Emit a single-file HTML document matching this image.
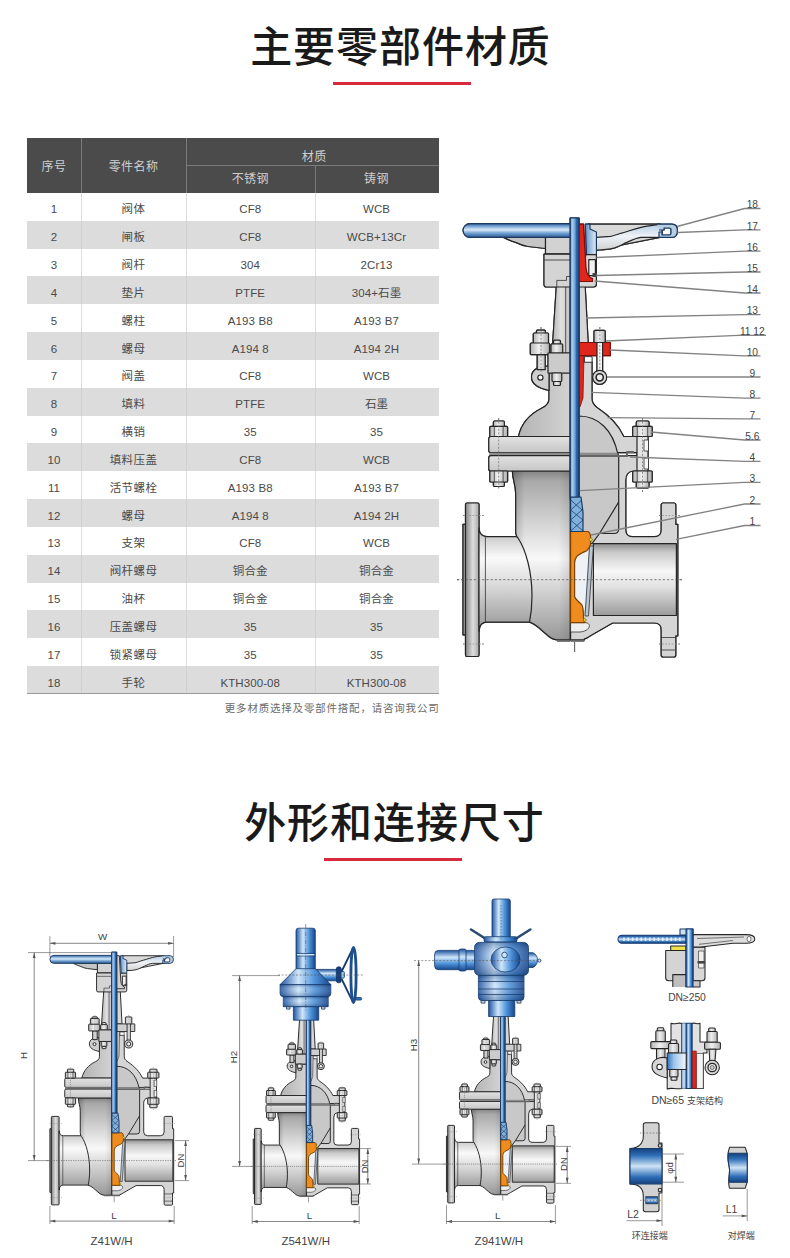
<!DOCTYPE html>
<html lang="zh-CN">
<head>
<meta charset="utf-8">
<title>主要零部件材质</title>
<style>
*{margin:0;padding:0;box-sizing:border-box}
html,body{width:790px;height:1258px;background:#fff;overflow:hidden}
body{position:relative;font-family:"Liberation Sans","Noto Sans CJK SC",sans-serif;color:#555}
.ttl{position:absolute;left:0;width:790px;text-align:center;font-family:"Liberation Sans","Noto Sans CJK SC",sans-serif;font-weight:500;color:#1a1a1a;font-size:42px;line-height:50px;letter-spacing:.95px;white-space:nowrap}
.red{position:absolute;height:3px;width:138px;background:#d8293f}
.tb{position:absolute;left:27px;top:137.5px;width:411.5px;height:556.5px;font-size:11px}
.hd{position:absolute;left:0;top:0;width:100%;height:55.5px;background:#4b4b4b;color:#cfcfcf}
.hd span{position:absolute;text-align:center;line-height:14px;font-size:12px;letter-spacing:.4px;margin-top:1.3px}
.vl{position:absolute;top:0;width:1px;height:100%;background:rgba(255,255,255,.55)}
.vl2{position:absolute;width:1px;background:#7a7a7a}
.r{position:absolute;left:27px;width:411.5px;height:27.83px;line-height:27.83px;font-size:11.5px;color:#4a4a4a;white-space:nowrap}
.r.e{background:#dcdcdc}
.r span{position:absolute;top:3.4px;text-align:center;letter-spacing:.1px}
.r .c2{letter-spacing:.4px}
.c1{left:0;width:54px}.c2{left:54px;width:105px}.c3{left:159px;width:128.5px}.c4{left:287.5px;width:124px}
.note{position:absolute;right:350.5px;top:700.8px;font-size:10.5px;line-height:14px;color:#6a6a6a;letter-spacing:.8px;white-space:nowrap}
svg{position:absolute;left:0;top:0;overflow:visible}
.ln,.ln *{stroke-width:var(--sw,1.2);stroke-linejoin:round}
.ln .thin{stroke-width:var(--swt,.75)}
svg text{font-family:"Liberation Sans","Noto Sans CJK SC",sans-serif}
</style>
</head>
<body>
<div class="ttl" style="top:23px;left:5.5px">主要零部件材质</div>
<div class="red" style="left:333px;top:82px"></div>
<div class="tb">
 <div class="hd">
  <span style="left:0;width:54px;top:21px">序号</span>
  <span style="left:54px;width:105px;top:21px">零件名称</span>
  <span style="left:161px;width:252.5px;top:11px">材质</span>
  <span style="left:159px;width:128.5px;top:33px">不锈钢</span>
  <span style="left:287.5px;width:124px;top:33px">铸钢</span>
  <i class="vl2" style="left:54px;top:0;height:55.5px"></i>
  <i class="vl2" style="left:159px;top:0;height:55.5px"></i>
  <i class="vl2" style="left:287.5px;top:27.5px;height:28px"></i>
  <i class="vl2" style="left:159px;top:27.5px;width:252.5px;height:1px"></i>
 </div>
</div>
<div class="r" style="top:193.00px"><span class="c1">1</span><span class="c2">阀体</span><span class="c3">CF8</span><span class="c4">WCB</span></div>
<div class="r e" style="top:220.83px"><span class="c1">2</span><span class="c2">闸板</span><span class="c3">CF8</span><span class="c4">WCB+13Cr</span></div>
<div class="r" style="top:248.66px"><span class="c1">3</span><span class="c2">阀杆</span><span class="c3">304</span><span class="c4">2Cr13</span></div>
<div class="r e" style="top:276.49px"><span class="c1">4</span><span class="c2">垫片</span><span class="c3">PTFE</span><span class="c4">304+石墨</span></div>
<div class="r" style="top:304.32px"><span class="c1">5</span><span class="c2">螺柱</span><span class="c3">A193 B8</span><span class="c4">A193 B7</span></div>
<div class="r e" style="top:332.15px"><span class="c1">6</span><span class="c2">螺母</span><span class="c3">A194 8</span><span class="c4">A194 2H</span></div>
<div class="r" style="top:359.98px"><span class="c1">7</span><span class="c2">阀盖</span><span class="c3">CF8</span><span class="c4">WCB</span></div>
<div class="r e" style="top:387.81px"><span class="c1">8</span><span class="c2">填料</span><span class="c3">PTFE</span><span class="c4">石墨</span></div>
<div class="r" style="top:415.64px"><span class="c1">9</span><span class="c2">横销</span><span class="c3">35</span><span class="c4">35</span></div>
<div class="r e" style="top:443.47px"><span class="c1">10</span><span class="c2">填料压盖</span><span class="c3">CF8</span><span class="c4">WCB</span></div>
<div class="r" style="top:471.30px"><span class="c1">11</span><span class="c2">活节螺栓</span><span class="c3">A193 B8</span><span class="c4">A193 B7</span></div>
<div class="r e" style="top:499.13px"><span class="c1">12</span><span class="c2">螺母</span><span class="c3">A194 8</span><span class="c4">A194 2H</span></div>
<div class="r" style="top:526.96px"><span class="c1">13</span><span class="c2">支架</span><span class="c3">CF8</span><span class="c4">WCB</span></div>
<div class="r e" style="top:554.79px"><span class="c1">14</span><span class="c2">阀杆螺母</span><span class="c3">铜合金</span><span class="c4">铜合金</span></div>
<div class="r" style="top:582.62px"><span class="c1">15</span><span class="c2">油杯</span><span class="c3">铜合金</span><span class="c4">铜合金</span></div>
<div class="r e" style="top:610.45px"><span class="c1">16</span><span class="c2">压盖螺母</span><span class="c3">35</span><span class="c4">35</span></div>
<div class="r" style="top:638.28px"><span class="c1">17</span><span class="c2">锁紧螺母</span><span class="c3">35</span><span class="c4">35</span></div>
<div class="r e" style="top:666.11px"><span class="c1">18</span><span class="c2">手轮</span><span class="c3">KTH300-08</span><span class="c4">KTH300-08</span></div>
<i class="vl" style="left:81px;top:193px;height:501px;background:rgba(200,200,200,.6)"></i>
<i class="vl" style="left:186px;top:193px;height:501px;background:rgba(200,200,200,.6)"></i>
<i class="vl" style="left:314.5px;top:193px;height:501px;background:rgba(200,200,200,.6)"></i>
<div style="position:absolute;left:27px;top:692.8px;width:411.5px;height:1.6px;background:#9a9a9a"></div>
<div class="note">更多材质选择及零部件搭配，请咨询我公司</div>
<div class="ttl" style="top:799px;left:-0.5px">外形和连接尺寸</div>
<div class="red" style="left:324px;top:858px"></div>
<svg width="790" height="1258" viewBox="0 0 790 1258">
<defs>
<linearGradient id="gBodyH" x1="0" x2="0" y1="471" y2="640" gradientUnits="userSpaceOnUse">
 <stop offset="0" stop-color="#858585"/><stop offset=".06" stop-color="#a9a9a9"/><stop offset=".28" stop-color="#cfcfcf"/><stop offset=".52" stop-color="#f8f8f8"/><stop offset=".72" stop-color="#cfcfcf"/><stop offset="1" stop-color="#989898"/></linearGradient>
<linearGradient id="gBodyX" x1="512" x2="570.2" y1="0" y2="0" gradientUnits="userSpaceOnUse">
 <stop offset="0" stop-color="#000" stop-opacity=".22"/><stop offset=".22" stop-color="#000" stop-opacity="0"/><stop offset=".8" stop-color="#000" stop-opacity="0"/><stop offset="1" stop-color="#000" stop-opacity=".1"/></linearGradient>
<linearGradient id="gDark" x1="0" x2="0" y1="471" y2="486" gradientUnits="userSpaceOnUse">
 <stop offset="0" stop-color="#000" stop-opacity=".38"/><stop offset="1" stop-color="#000" stop-opacity="0"/></linearGradient>
<linearGradient id="gBelly" x1="0" x2="0" y1="560" y2="640" gradientUnits="userSpaceOnUse">
 <stop offset="0" stop-color="#000" stop-opacity="0"/><stop offset="1" stop-color="#000" stop-opacity=".3"/></linearGradient>
<linearGradient id="gPipeV" x1="0" x2="0" y1="536.6" y2="622.2" gradientUnits="userSpaceOnUse">
 <stop offset="0" stop-color="#cdcdcd"/><stop offset=".25" stop-color="#fafafa"/><stop offset=".6" stop-color="#d6d6d6"/><stop offset="1" stop-color="#a2a2a2"/></linearGradient>
<linearGradient id="gBore" x1="0" x2="0" y1="543.6" y2="615.5" gradientUnits="userSpaceOnUse">
 <stop offset="0" stop-color="#8d8d8d"/><stop offset=".12" stop-color="#c9c9c9"/><stop offset=".38" stop-color="#f7f7f7"/><stop offset=".6" stop-color="#e2e2e2"/><stop offset="1" stop-color="#9b9b9b"/></linearGradient>
<linearGradient id="gFlL" x1="465.5" x2="479" y1="0" y2="0" gradientUnits="userSpaceOnUse">
 <stop offset="0" stop-color="#858585"/><stop offset=".55" stop-color="#dedede"/><stop offset="1" stop-color="#a8a8a8"/></linearGradient>
<linearGradient id="gFlg" x1="0" x2="0" y1="0" y2="1">
 <stop offset="0" stop-color="#e2e2e2"/><stop offset="1" stop-color="#c6c6c6"/></linearGradient>
<linearGradient id="gNut" x1="0" x2="1" y1="0" y2="0">
 <stop offset="0" stop-color="#b5b5b5"/><stop offset=".45" stop-color="#f0f0f0"/><stop offset="1" stop-color="#b0b0b0"/></linearGradient>
<linearGradient id="gDome" x1="518" x2="570" y1="0" y2="0" gradientUnits="userSpaceOnUse">
 <stop offset="0" stop-color="#b4b4b4"/><stop offset="1" stop-color="#d2d2d2"/></linearGradient>
<linearGradient id="gYoke" x1="552" x2="570" y1="0" y2="0" gradientUnits="userSpaceOnUse">
 <stop offset="0" stop-color="#b2b2b2"/><stop offset=".5" stop-color="#e0e0e0"/><stop offset="1" stop-color="#c2c2c2"/></linearGradient>
<linearGradient id="gTube" x1="0" x2="0" y1="223.6" y2="237.4" gradientUnits="userSpaceOnUse">
 <stop offset="0" stop-color="#2e5f9a"/><stop offset=".25" stop-color="#8db6e0"/><stop offset=".45" stop-color="#dbe9f6"/><stop offset=".7" stop-color="#6e9fd2"/><stop offset="1" stop-color="#2c5a92"/></linearGradient>
<linearGradient id="gStem" x1="570.2" x2="579" y1="0" y2="0" gradientUnits="userSpaceOnUse">
 <stop offset="0" stop-color="#5e93cc"/><stop offset=".25" stop-color="#a9cdef"/><stop offset=".55" stop-color="#6a9fd8"/><stop offset=".7" stop-color="#2d68ae"/><stop offset="1" stop-color="#1d4c8a"/></linearGradient>
<linearGradient id="gSpoke" x1="0" x2="0" y1="225" y2="250" gradientUnits="userSpaceOnUse"><stop offset="0" stop-color="#b9cfe6"/><stop offset=".45" stop-color="#eef3f8"/><stop offset="1" stop-color="#d0d0d0"/></linearGradient>
<linearGradient id="gHubB" x1="585" x2="597" y1="0" y2="0" gradientUnits="userSpaceOnUse">
 <stop offset="0" stop-color="#5f92c8"/><stop offset="1" stop-color="#eef4fa"/></linearGradient>
</defs>
<g id="vbody" class="ln" stroke="#262626">
<rect x="463" y="524.4" width="3" height="110.4" fill="#9a9a9a"/>
<rect x="465.5" y="503" width="13.5" height="153.5" rx="1.5" fill="url(#gFlL)"/>
<path d="M479,528 Q479.5,536.6 487,536.6 L533,536.6 L533,622.2 L487,622.2 Q479.5,622.2 479,631 Z" fill="url(#gPipeV)"/>
<path d="M485.4,536.6 V622.2" fill="none" class="thin"/>
<path d="M570.2,471 L512.4,471 C512.4,480 515.7,484 515.7,494 L515.7,531 Q515.7,536 518,538 C526,550 532,572 532,596 C532,606 531,615 529.5,622.2 C536,624 541,630 546,634 Q552,639.8 557,639.8 L570.2,639.8 Z" fill="url(#gBodyH)"/>
<path d="M570.2,471 L512.4,471 C512.4,480 515.7,484 515.7,494 L515.7,531 Q515.7,536 518,538 C526,550 532,572 532,596 C532,606 531,615 529.5,622.2 C536,624 541,630 546,634 Q552,639.8 557,639.8 L570.2,639.8 Z" fill="url(#gBodyX)" stroke="none"/>
<rect x="557" y="639.8" width="13.2" height="1.8" fill="#666" stroke="none"/>
<path d="M579,455.7 L640,455.7 L640,471 L633,471 Q625.8,472 625.8,480 L625.8,530 Q625.8,536.6 632.4,536.6 L654.5,536.6 Q661.2,536.6 661.2,530 L661.2,505 Q661.2,503 663.2,503 L673.8,503 Q675.8,503 675.8,505 L675.8,524.4 L677.8,524.4 L677.8,635.8 L675.8,635.8 L675.8,655 Q675.8,657 673.8,657 L663.2,657 Q661.2,657 661.2,655 L661.2,630 Q661.2,623 654.5,623 L612.6,623 L590,636 Q586,638.8 584.3,638.8 L584.3,639.8 L570.6,639.8 L570.6,455.7 Z" fill="#d5d5d5"/>
<rect x="570.6" y="639.8" width="13.7" height="1.8" fill="#666" stroke="none"/>
<path d="M661.2,637.5 H675.8 M661.2,650 H675.8" fill="none" class="thin"/>
<path d="M579,416 C598,416 613,430 617.7,453.7 L618.7,457 L618.7,529 Q618.7,533.5 614,533.5 L599.5,533.5 L592,543.6 L579,543.6 Z" fill="#c8c8c8"/>
<path d="M618.7,502 L599.5,533.5" fill="none"/>
<rect x="593.4" y="543.6" width="83" height="71.9" fill="url(#gBore)"/>
<path d="M570.6,622.6 L586,622.6 C592,624 590,631 580,632 L570.6,632 Z" fill="#efefef" class="thin"/>
<path d="M576.5,557 L589.5,548 L585.5,612 L579,601 L575,597 L575,563 Z" fill="#eef2f6" stroke="none"/>
<path d="M589.5,546 L593.4,546 L588.5,616 L585,616 Z" fill="#b9c6d3" class="thin"/>
<path d="M570.6,531.5 L588,531.5 Q590.6,533 590.6,537.6 L590.6,542.6 C590.6,547 588,549.5 586.6,550.7 C582,553 577.5,555 576.5,556.8 C575,559 574.6,561 574.6,563 L574.6,596.3 C575,599 578,601 581.5,604.4 C583,606 583.5,610 583.5,618.6 L584.5,622.6 L570.6,622.6 Z" fill="#f08c1e" stroke="#7a4300"/>
<circle cx="590.8" cy="539.5" r="1.6" fill="#f2e24a" stroke="#7a6a00" class="thin"/>
<circle cx="584.8" cy="620" r="1.4" fill="#f2e24a" stroke="#7a6a00" class="thin"/>
<path d="M570.2,373 L549,373 L549,399 C549,404 546,406 542,408 C530,414 521,424 518.5,436.5 L570.2,436.5 Z" fill="url(#gDome)"/>
<path d="M579,362 L592,362 L592,399 C592,403 594,405 597,407.5 C610,416 619,426 623.8,436.5 L640,436.5 L640,452.7 L579,452.7 Z" fill="#d5d5d5"/>
<path d="M579,416 C598,416 613,430 617.7,453.7 L579,453.7 Z" fill="#c8c8c8"/>
<path d="M570.2,436.5 L491,436.5 Q488.8,436.5 488.8,439 L488.8,450.5 Q488.8,452.7 491,452.7 L570.2,452.7 Z" fill="url(#gFlg)"/>
<rect x="489.5" y="452.7" width="128" height="3" fill="#8c8c8c" stroke="none"/>
<path d="M570.2,455.7 L491,455.7 Q488.8,455.7 488.8,458 L488.8,469 Q488.8,471 491,471 L570.2,471 Z" fill="url(#gFlg)"/>
<path d="M579,456 H627 V452 H634" fill="none" stroke="#666" style="stroke-width:2"/>
<rect x="493.4" y="421.0" width="11.0" height="6.4" rx="1.2" fill="url(#gNut)"/>
<rect x="493.4" y="481.0" width="11.0" height="5.5" rx="1.2" fill="url(#gNut)"/>
<rect x="489.8" y="426.4" width="17.8" height="10.1" rx="1" fill="url(#gNut)"/>
<rect x="489.8" y="471.0" width="17.8" height="11.0" rx="1" fill="url(#gNut)"/>
<path d="M494.3,426.4 V436.5 M503.1,426.4 V436.5 M494.3,471.0 V482.0 M503.1,471.0 V482.0" fill="none" class="thin"/>
<path d="M498.7,418 V490" fill="none" stroke="#777" stroke-dasharray="2 1.6" class="thin"/>
<rect x="637" y="436.5" width="11" height="34.5" fill="#e4e4e4"/>
<rect x="644" y="440" width="4.5" height="11" fill="#f6f6f6" class="thin"/><rect x="644" y="458" width="4.5" height="11" fill="#f6f6f6" class="thin"/>
<rect x="636.3" y="421.0" width="12.7" height="6.4" rx="1.2" fill="url(#gNut)"/>
<rect x="636.3" y="481.0" width="12.7" height="7.0" rx="1.2" fill="url(#gNut)"/>
<rect x="632.7" y="426.4" width="19.5" height="10.1" rx="1" fill="url(#gNut)"/>
<rect x="632.7" y="471.0" width="19.5" height="11.0" rx="1" fill="url(#gNut)"/>
<path d="M637.2,426.4 V436.5 M647.7,426.4 V436.5 M637.2,471.0 V482.0 M647.7,471.0 V482.0" fill="none" class="thin"/>
<path d="M642.5,418 V492" fill="none" stroke="#777" stroke-dasharray="2 1.6" class="thin"/>
<path d="M549,366.5 C540,365 531.5,369.5 531.5,377 C531.5,384.5 538,388 549,390.5 Z" fill="#cfcfcf"/>
<circle cx="540.4" cy="377.6" r="2.6" fill="#fff"/>
<rect x="537.2" y="354.7" width="8" height="15" fill="url(#gNut)"/>
<rect x="536.4" y="330.2" width="9" height="4" rx="1" fill="url(#gNut)"/>
<rect x="533.3" y="333" width="15.2" height="10.5" rx="1" fill="url(#gNut)"/>
<rect x="530.3" y="343" width="19.2" height="11.7" rx="1" fill="url(#gNut)"/>
<path d="M541,327 V372" fill="none" stroke="#777" stroke-dasharray="2 1.6" class="thin"/>
<path d="M556.5,283 L552,353 L570.2,353 L570.2,283 Z" fill="url(#gYoke)"/>
<path d="M565.7,283 V353" fill="none" class="thin"/>
<rect x="553.5" y="340.2" width="7" height="4.5" rx="1" fill="url(#gNut)"/>
<rect x="551" y="343.8" width="11.7" height="9.4" rx="1" fill="url(#gNut)"/>
<rect x="548" y="353" width="22.2" height="20" fill="#cbcbcb"/>
<rect x="552" y="373" width="9.8" height="8.5" rx="1" fill="url(#gNut)"/>
<rect x="553.5" y="381.5" width="7" height="4" rx="1" fill="url(#gNut)"/>
<path d="M579,283 L585,283 L588.2,342.5 L579,342.5 Z" fill="#d6d6d6"/>
<path d="M579,355 H584 L583,398 L580,407 H579 Z" style="fill:var(--red,#e0251b);stroke:var(--redS,#7d0f0a)" class="thin"/>
<rect x="579" y="342.5" width="31.3" height="13.2" style="fill:var(--red,#e0251b);stroke:var(--redS,#7d0f0a)"/>
<rect x="584.5" y="356.7" width="7.5" height="5.5" fill="#fff" class="thin"/>
<rect x="597" y="336" width="5.6" height="36" fill="#f4f4f4"/>
<rect x="594" y="330.4" width="11.2" height="12.1" rx="1" fill="url(#gNut)"/>
<path d="M599.8,327 V372" fill="none" stroke="#777" stroke-dasharray="2 1.6" class="thin"/>
<circle cx="599.7" cy="377.3" r="7" fill="#d8d8d8"/><circle cx="599.7" cy="377.3" r="3.6" fill="#eee" style="stroke-width:1.6"/>
<rect x="570.2" y="218" width="8.8" height="282" fill="url(#gStem)" stroke="#1c3a60"/>
<path d="M570.6,497 L581,497 L583,512 L583,531.5 L570.6,531.5 Z" fill="#7fb0de" stroke="#1c3a60"/>
<path d="M570.6,500 L582,510 L570.6,520 L583,531 M582,500 L570.6,510 L583,520 L570.6,531" fill="none" stroke="#1c3a60" class="thin"/>
<path d="M457,579.7 H683" fill="none" stroke="#555" stroke-dasharray="2.2 2" class="thin"/>
<path d="M574.6,642 V652" fill="none" stroke="#555" class="thin"/>
<path d="M463,515.5 H484 M463,644 H484 M659,515.5 H680 M659,644 H680" fill="none" stroke="#888" stroke-dasharray="1.6 1.6" class="thin"/>
</g>
<g id="vwheel" class="ln" stroke="#262626">
<path d="M503.6,237.4 C509,240 512,241.5 515.7,242.4 C520,244.5 524,246 528,246.5 L545.5,248.5 L545.5,237.4 Z" fill="#c6c6c6"/>
<rect x="545.5" y="237.4" width="24.7" height="16.5" fill="#d2d2d2"/>
<path d="M544,254.2 L570.2,254.2 L570.2,287 L546.5,287 Q544,287 544,284.5 Z" fill="#d4d4d4"/>
<path d="M556.8,287 V280.4 H566.5 V276.5 H570.2" fill="none" class="thin"/>
<path d="M544,260 H570.2" fill="none" class="thin"/>
<path d="M470,223.6 L570.2,223.6 L570.2,237.4 L470,237.4 A6.9,6.9 0 0 1 470,223.6 Z" fill="url(#gTube)" stroke="#1c3a60"/>
<path d="M588,224.2 L660,224.2 L660,237.4 L596.4,250 Z" fill="#d9d9d9"/>
<path d="M662,224.6 C652,225 646,226 641,227.3 C633,229.5 627,231.5 620.7,233.3 C616,235 613,236 610.6,236.4 L596.4,237.4 L596.4,250 C604,250 609,249.5 614.7,247.9 C620,246 623,244 626.8,242.4 C632,240 636,238 641,237.4 L662,237.4 Z" fill="url(#gSpoke)"/>
<path d="M657,224.2 L672,224.2 Q677.4,224.2 677.4,230.8 Q677.4,237.4 672,237.4 L659,237.4 L659,232 L662,232 L662,235 L669.5,235 Q671,235 671,233 L671,229.5 Q671,228 669.5,228 L664,228 L664,230 L659,230" fill="#b9cde2" stroke="#1c3a60"/>
<path d="M585.3,224.2 L590,224.2 L590,229 L596.4,232 L596.4,254.6 L586.5,254.6 Z" fill="url(#gHubB)" stroke="#1c3a60"/>
<path d="M586,254.6 L596.4,254.6 L596.4,284 Q596.4,287 593.4,287 L579,287 L579,281 Z" fill="#d6d6d6"/>
<rect x="588.8" y="259.6" width="6.6" height="16" fill="#f2f2f2"/>
<rect x="592.5" y="273" width="4.5" height="4" fill="#444" stroke="none"/>
<path d="M579,224.2 L583.5,224.2 L586,268 Q587,277 592.5,278.5 L592.5,281.5 L579,281.5 Z" style="fill:var(--red,#e0251b);stroke:var(--redS,#7d0f0a)"/>
</g>
<use href="#vbody"/><use href="#vwheel"/>
<rect x="570.2" y="218" width="8.8" height="279" fill="url(#gStem)" stroke="#1c3a60" class="ln"/>
<g stroke="#828282" stroke-width="1.3" fill="none">
<path d="M677.0,226.5 L744.5,208.5 H760.5"/>
<path d="M677.5,232.5 L744.5,229.8 H760.5"/>
<path d="M596.4,257.5 L744.5,251.2 H760.5"/>
<path d="M596.5,275.5 L744.5,272.0 H760.5"/>
<path d="M594.5,281.0 L744.5,293.0 H760.5"/>
<path d="M586.0,318.0 L744.5,314.6 H760.5"/>
<path d="M606.0,341.0 L738.5,335.4 H766.0"/>
<path d="M610.0,350.0 L744.5,355.9 H760.5"/>
<path d="M607.0,377.0 L744.5,377.0 H760.5"/>
<path d="M591.0,392.3 L744.5,398.2 H760.5"/>
<path d="M607.6,417.7 L744.5,418.8 H760.5"/>
<path d="M650.8,432.0 L744.5,440.0 H760.5"/>
<path d="M630.0,457.0 L744.5,461.4 H760.5"/>
<path d="M579.7,490.7 L744.5,482.3 H760.5"/>
<path d="M591.0,535.0 L744.5,504.0 H760.5"/>
<path d="M676.0,539.4 L744.5,525.5 H760.5"/>
</g>
<g font-size="10.2" fill="#444" text-anchor="middle">
<text x="752.3" y="208.2">18</text>
<text x="752.3" y="229.5">17</text>
<text x="752.3" y="250.9">16</text>
<text x="752.3" y="271.7">15</text>
<text x="752.3" y="292.7">14</text>
<text x="752.3" y="314.3">13</text>
<text x="752.3" y="335.1">11 12</text>
<text x="752.3" y="355.6">10</text>
<text x="752.3" y="376.7">9</text>
<text x="752.3" y="397.9">8</text>
<text x="752.3" y="418.5">7</text>
<text x="752.3" y="439.7">5.6</text>
<text x="752.3" y="461.1">4</text>
<text x="752.3" y="482.0">3</text>
<text x="752.3" y="503.7">2</text>
<text x="752.3" y="525.2">1</text>
</g>
<defs>
<linearGradient id="gBlH" x1="0" x2="1" y1="0" y2="0">
 <stop offset="0" stop-color="#1f55a2"/><stop offset=".36" stop-color="#cfe6fa"/><stop offset=".68" stop-color="#4f93da"/><stop offset="1" stop-color="#17468c"/></linearGradient>
<linearGradient id="gBlV" x1="0" x2="0" y1="0" y2="1">
 <stop offset="0" stop-color="#1f55a2"/><stop offset=".36" stop-color="#cfe6fa"/><stop offset=".68" stop-color="#4f93da"/><stop offset="1" stop-color="#17468c"/></linearGradient>
<linearGradient id="gShV" x1="0" x2="0" y1="0" y2="1"><stop offset="0" stop-color="#0d2f66" stop-opacity=".35"/><stop offset=".4" stop-color="#fff" stop-opacity=".12"/><stop offset="1" stop-color="#0d2f66" stop-opacity=".35"/></linearGradient>
<linearGradient id="gGl2" x1="0" x2="1" y1="0" y2="0"><stop offset="0" stop-color="#2f72c0"/><stop offset=".35" stop-color="#9cc4ea"/><stop offset="1" stop-color="#f4f8fc"/></linearGradient>
<linearGradient id="gBlV2" x1="0" x2="0" y1="0" y2="1">
 <stop offset="0" stop-color="#15407c"/><stop offset=".2" stop-color="#2f6fb8"/><stop offset=".5" stop-color="#cfe3f5"/><stop offset=".8" stop-color="#2f6fb8"/><stop offset="1" stop-color="#15407c"/></linearGradient>
</defs>
<g transform="translate(-216.94,826.52) scale(0.5763)" style="--sw:1.65;--swt:1.04;--red:#cfcfcf;--redS:#333">
<use href="#vbody"/>
<use href="#vwheel"/>
<rect x="570.2" y="218" width="8.8" height="279" fill="url(#gStem)" stroke="#1c3a60" class="ln"/>
</g>
<path d="M49.9,936 V957 M173.6,936 V957" stroke="#555" style="stroke-width:.6" fill="none"/>
<path d="M49.9,943.3 H173.6" stroke="#555" style="stroke-width:.7" fill="none"/>
<polygon points="49.9,943.3 55.4,941.9 55.4,944.7" fill="#555"/>
<polygon points="173.6,943.3 168.1,941.9 168.1,944.7" fill="#555"/>
<text x="102.5" y="940.3" font-size="9.8" fill="#444" text-anchor="middle">W</text>
<path d="M28,952.6 H112" stroke="#555" style="stroke-width:.6" fill="none"/>
<path d="M28,1160.6 H52" stroke="#555" style="stroke-width:.6" fill="none"/>
<path d="M34.2,952.6 V1160.6" stroke="#555" style="stroke-width:.7" fill="none"/>
<polygon points="34.2,952.6 32.8,958.1 35.6,958.1" fill="#555"/>
<polygon points="34.2,1160.6 32.8,1155.1 35.6,1155.1" fill="#555"/>
<text x="27.0" y="1055.4" font-size="9.8" fill="#444" text-anchor="middle" transform="rotate(-90 27.0 1055.4)">H</text>
<path d="M49.9,1206 V1224 M174.2,1206 V1224" stroke="#555" style="stroke-width:.6" fill="none"/>
<path d="M49.9,1221.1 H174.2" stroke="#555" style="stroke-width:.7" fill="none"/>
<polygon points="49.9,1221.1 55.4,1219.7 55.4,1222.5" fill="#555"/>
<polygon points="174.2,1221.1 168.7,1219.7 168.7,1222.5" fill="#555"/>
<text x="114.0" y="1218.5" font-size="9.8" fill="#444" text-anchor="middle">L</text>
<path d="M175,1140.6 H189 M175,1180.6 H189" stroke="#555" style="stroke-width:.6" fill="none"/>
<path d="M185.6,1140.6 V1180.6" stroke="#555" style="stroke-width:.7" fill="none"/>
<polygon points="185.6,1140.6 184.2,1146.1 187.0,1146.1" fill="#555"/>
<polygon points="185.6,1180.6 184.2,1175.1 187.0,1175.1" fill="#555"/>
<text x="184.0" y="1160.6" font-size="9.5" fill="#444" text-anchor="middle" transform="rotate(-90 184.0 1160.6)">DN</text>
<text x="111.6" y="1245.0" font-size="11.5" fill="#444" text-anchor="middle">Z41W/H</text>
<g transform="translate(24.07,879.45) scale(0.4950)" style="--sw:1.92;--swt:1.21;--red:#cfcfcf;--redS:#333">
<use href="#vbody"/>
</g>
<g class="ln" stroke="#153a6b" style="--sw:.8">
<path d="M316,969.4 L337,969.4 L337,980.8 L326,980.8 Z" fill="url(#gBlV)"/>
<rect x="336.3" y="966.8" width="5" height="16" rx="2.2" fill="#173f78"/><rect x="341" y="971.5" width="3.4" height="6.6" rx="1.2" fill="#9cc4ea"/>
<path d="M341.6,971.5 L352.8,948.5 M341.6,979 L352.8,1001.8" fill="none" style="stroke-width:1.8"/>
<ellipse cx="353.5" cy="975" rx="2.6" ry="27.6" fill="none" stroke="#1d4f8f" style="stroke-width:2.8"/>
<rect x="355.6" y="997.5" width="6" height="2.6" rx="1" fill="#2f6fb8"/>
<path d="M296,970 V930.5 Q296,928.2 298.5,928.2 H312.8 Q315.3,928.2 315.3,930.5 V970 Z" fill="url(#gBlH)"/>
<path d="M296,953.4 H315.3 M296,956 H315.3" fill="none" stroke="#153a6b" class="thin"/><path d="M297,954.7 H314.3" fill="none" stroke="#cfe3f5" style="stroke-width:1.4"/>
<path d="M296,968.7 L315.3,968.7 L330.8,984.6 L280.1,984.6 Z" fill="url(#gBlH)"/>
<path d="M280.1,984.6 H330.8 V993.5 Q330.8,996.6 327.5,996.6 H283.4 Q280.1,996.6 280.1,993.5 Z" fill="url(#gBlH)"/>
<path d="M280.1,984.6 H330.8 V993.5 Q330.8,996.6 327.5,996.6 H283.4 Q280.1,996.6 280.1,993.5 Z" fill="url(#gShV)" stroke="none"/>
<rect x="283.3" y="996.6" width="44.9" height="10.1" fill="url(#gBlH)"/>
<rect x="283.3" y="996.6" width="44.9" height="10.1" fill="url(#gShV)" stroke="none"/>
<rect x="286.5" y="1006.7" width="3.5" height="2.4" fill="#c9c9c9"/><rect x="321.5" y="1006.7" width="3.5" height="2.4" fill="#c9c9c9"/>
<rect x="293.4" y="1006.7" width="25.3" height="13.5" fill="url(#gBlH)"/>
</g>
<path d="M305.7,924 V1012" stroke="#555" style="stroke-width:.6" fill="none" stroke-dasharray="4 1.5 1 1.5"/>
<path d="M278,975 H364" stroke="#555" style="stroke-width:.6" fill="none" stroke-dasharray="2 1.6"/>
<path d="M232,975.6 H280" stroke="#555" style="stroke-width:.6" fill="none"/>
<path d="M232,1166.4 H254" stroke="#555" style="stroke-width:.6" fill="none"/>
<path d="M239.6,975.6 V1166.4" stroke="#555" style="stroke-width:.7" fill="none"/>
<polygon points="239.6,975.6 238.2,981.1 241.0,981.1" fill="#555"/>
<polygon points="239.6,1166.4 238.2,1160.9 241.0,1160.9" fill="#555"/>
<text x="237.4" y="1057.0" font-size="9.8" fill="#444" text-anchor="middle" transform="rotate(-90 237.4 1057.0)">H2</text>
<path d="M252.2,1206 V1224 M359.2,1206 V1224" stroke="#555" style="stroke-width:.6" fill="none"/>
<path d="M252.2,1221.5 H359.2" stroke="#555" style="stroke-width:.7" fill="none"/>
<polygon points="252.2,1221.5 257.7,1220.1 257.7,1222.9" fill="#555"/>
<polygon points="359.2,1221.5 353.7,1220.1 353.7,1222.9" fill="#555"/>
<text x="309.6" y="1218.5" font-size="9.8" fill="#444" text-anchor="middle">L</text>
<path d="M360,1148.6 H371 M360,1184 H371" stroke="#555" style="stroke-width:.6" fill="none"/>
<path d="M367.8,1148.6 V1184.0" stroke="#555" style="stroke-width:.7" fill="none"/>
<polygon points="367.8,1148.6 366.4,1154.1 369.2,1154.1" fill="#555"/>
<polygon points="367.8,1184.0 366.4,1178.5 369.2,1178.5" fill="#555"/>
<text x="368.2" y="1166.4" font-size="9.5" fill="#444" text-anchor="middle" transform="rotate(-90 368.2 1166.4)">DN</text>
<text x="305.7" y="1245.0" font-size="11.5" fill="#444" text-anchor="middle">Z541W/H</text>
<g transform="translate(212.63,871.35) scale(0.5050)" style="--sw:1.88;--swt:1.19;--red:#cfcfcf;--redS:#333">
<use href="#vbody"/>
</g>
<g class="ln" stroke="#153a6b" style="--sw:.8">
<path d="M492,941 V901 Q492,899 494,899 H508.3 Q510.3,899 510.3,901 V941 Z" fill="url(#gBlH)"/>
<path d="M471,929.5 L486,939 M530.3,929.5 L515.3,939" fill="none" stroke="#2b4a72" stroke-linecap="round" style="stroke-width:2.6"/>
<rect x="484" y="936.7" width="33" height="5.2" rx="1.5" fill="url(#gBlH)"/>
<rect x="434.6" y="950.4" width="42" height="19.3" rx="4" fill="url(#gBlV)"/>
<rect x="459" y="949" width="7" height="22" rx="1.5" fill="url(#gBlV)"/>
<path d="M527,952.7 H533 Q537.5,955 537.5,960 Q537.5,965 533,967.5 H527 Z" fill="url(#gBlV)"/>
<circle cx="539.4" cy="960.6" r="1.6" fill="#e8e8e8"/>
<rect x="474.5" y="942.4" width="54" height="33" rx="5" fill="url(#gBlH)"/>
<rect x="474.5" y="942.4" width="54" height="33" rx="5" fill="url(#gShV)" stroke="none"/>
<ellipse cx="505.6" cy="959.5" rx="14.5" ry="12.5" fill="url(#gBlH)" class="thin"/>
<circle cx="504.5" cy="955" r="2.8" fill="#cfe3f5"/>
<path d="M478.4,975.4 H524 V997 Q524,1000.5 520.5,1000.5 H482 Q478.4,1000.5 478.4,997 Z" fill="url(#gBlH)"/>
<path d="M478.4,975.4 H524 V997 Q524,1000.5 520.5,1000.5 H482 Q478.4,1000.5 478.4,997 Z" fill="url(#gShV)" stroke="none"/>
<path d="M478.4,981.5 H524 M478.4,989 H524 M478.4,994.5 H524" fill="none" class="thin"/>
<rect x="481" y="1000.5" width="4" height="2.6" fill="#c9c9c9"/><rect x="517" y="1000.5" width="4" height="2.6" fill="#c9c9c9"/>
<rect x="488.6" y="1000.5" width="26.2" height="16" fill="url(#gBlH)"/>
</g>
<path d="M501.1,905 V940" stroke="#555" style="stroke-width:.6" fill="none" stroke-dasharray="1.5 1.5"/>
<path d="M414,960.6 H541" stroke="#555" style="stroke-width:.6" fill="none" stroke-dasharray="2 1.6"/>
<path d="M412,1164.1 H449" stroke="#555" style="stroke-width:.6" fill="none"/>
<path d="M418.7,960.6 V1164.1" stroke="#555" style="stroke-width:.7" fill="none"/>
<polygon points="418.7,960.6 417.3,966.1 420.1,966.1" fill="#555"/>
<polygon points="418.7,1164.1 417.3,1158.6 420.1,1158.6" fill="#555"/>
<text x="417.4" y="1045.0" font-size="9.8" fill="#444" text-anchor="middle" transform="rotate(-90 417.4 1045.0)">H3</text>
<path d="M446.5,1205 V1224 M555.4,1205 V1224" stroke="#555" style="stroke-width:.6" fill="none"/>
<path d="M446.5,1221.5 H555.4" stroke="#555" style="stroke-width:.7" fill="none"/>
<polygon points="446.5,1221.5 452.0,1220.1 452.0,1222.9" fill="#555"/>
<polygon points="555.4,1221.5 549.9,1220.1 549.9,1222.9" fill="#555"/>
<text x="497.7" y="1218.5" font-size="9.8" fill="#444" text-anchor="middle">L</text>
<path d="M556,1146.4 H571 M556,1183.3 H571" stroke="#555" style="stroke-width:.6" fill="none"/>
<path d="M567.2,1146.4 V1183.3" stroke="#555" style="stroke-width:.7" fill="none"/>
<polygon points="567.2,1146.4 565.8,1151.9 568.6,1151.9" fill="#555"/>
<polygon points="567.2,1183.3 565.8,1177.8 568.6,1177.8" fill="#555"/>
<text x="566.8" y="1164.1" font-size="9.5" fill="#444" text-anchor="middle" transform="rotate(-90 566.8 1164.1)">DN</text>
<text x="498.9" y="1245.0" font-size="11.5" fill="#444" text-anchor="middle">Z941W/H</text>
<g class="ln" stroke="#262626" style="--sw:1.05;--swt:.6">
<path d="M665.7,950.4 H686 V980.7 H668.7 Q665.7,980.7 665.7,977.7 Z" fill="#d4d4d4"/>
<path d="M672.8,987 V974.6 H686 V987" fill="#bfbfbf"/>
<rect x="670.7" y="946" width="15.3" height="4.4" fill="#f2e24a"/>
<path d="M693,947.3 H705 V977.7 Q705,980.7 702,980.7 H693 Z" fill="#d8d8d8"/>
<path d="M693,980.7 H700 V987 H693" fill="#c8c8c8"/>
<rect x="698.5" y="951" width="5.5" height="17" fill="#f0f0f0" class="thin"/><rect x="697.5" y="961" width="7.5" height="2.6" fill="#444" stroke="none"/>
<path d="M693,934.6 H746 Q754.8,934.6 754.8,939 Q754.8,943.3 746,943.3 L733,943.3 L701,947 L693,947 Z" fill="#dedede"/>
<path d="M697,938.5 L744,937 M699,944.3 L733,940.5" fill="none" class="thin"/>
<ellipse cx="749" cy="939" rx="2" ry="2.6" fill="#fff" class="thin"/>
<path d="M622,935.2 H686 V943.3 H622 A4.05,4.05 0 0 1 622,935.2 Z" fill="url(#gBlV2)" stroke="#153a6b"/>
<path d="M624.0,937.4 V941.1 M628.3,937.4 V941.1 M632.6,937.4 V941.1 M636.9,937.4 V941.1 M641.2,937.4 V941.1 M645.5,937.4 V941.1 M649.8,937.4 V941.1 M654.1,937.4 V941.1 M658.4,937.4 V941.1 M662.7,937.4 V941.1 M667.0,937.4 V941.1 M671.3,937.4 V941.1 M675.6,937.4 V941.1 M679.9,937.4 V941.1" fill="none" stroke="#e6f0fa" style="stroke-width:1.6"/>
<rect x="680" y="929" width="13" height="6" fill="#cfe0f0" stroke="#153a6b"/>
<rect x="686" y="929" width="7" height="58" fill="url(#gBlH)" stroke="#153a6b"/>
<path d="M671,1023.2 C675,1025 678,1022 681.8,1023.5 L681.8,1088.4 C676,1090 672,1087 667.2,1089 L667.2,1069 L671,1069 Z" fill="#e2e2e2"/>
<path d="M691.9,1023.5 C695,1022 698,1025 700,1023.2 L700,1042 L707,1042 L707,1053 L703.3,1053 L703.3,1088.4 L691.9,1088.4 Z" fill="#e2e2e2"/>
<rect x="696.3" y="1053.5" width="7" height="35" fill="#f4f4f4" class="thin"/>
<rect x="681.8" y="1023.2" width="4.4" height="65.2" fill="#b9d3ec" stroke="#153a6b" class="thin"/>
<rect x="686.2" y="1023.2" width="5.7" height="65.2" fill="url(#gBlH)" stroke="#153a6b"/>
<rect x="692.5" y="1051" width="3.8" height="37.4" fill="#e0251b" stroke="#7d0f0a" class="thin"/>
<rect x="657.3" y="1027.8" width="6.5" height="3.6" rx="1" fill="url(#gNut)"/><rect x="655.8" y="1030.8" width="9.5" height="10.8" rx="1" fill="url(#gNut)"/>
<rect x="650.8" y="1041.6" width="20.2" height="7" rx="1" fill="url(#gNut)"/><rect x="656.5" y="1048.6" width="8.5" height="13" fill="url(#gNut)"/>
<path d="M667.2,1058 C660,1056 652,1059.5 652,1066.5 C652,1073.5 659,1076 667.2,1078 Z" fill="#d6d6d6"/><circle cx="659.6" cy="1066.9" r="2.7" fill="#fff"/>
<rect x="670.3" y="1040" width="6.5" height="4" rx="1" fill="url(#gNut)"/><rect x="668.5" y="1043.5" width="10.1" height="9.5" rx="1" fill="url(#gNut)"/>
<rect x="667.2" y="1053" width="19" height="16.4" fill="url(#gGl2)"/>
<rect x="669.7" y="1069.4" width="8.3" height="7.6" rx="1" fill="url(#gNut)"/><rect x="671" y="1077" width="6" height="3.2" rx="1" fill="url(#gNut)"/>
<rect x="708.7" y="1028" width="6.5" height="4" rx="1" fill="url(#gNut)"/><rect x="707" y="1031.5" width="10.2" height="10.7" rx="1" fill="url(#gNut)"/><rect x="704.6" y="1042.2" width="15.8" height="7" rx="1" fill="url(#gNut)"/>
<path d="M709,1049.2 L716,1049.2 L715,1061 L709.8,1061 Z" fill="url(#gNut)"/>
<circle cx="712.2" cy="1067.5" r="7.2" fill="#d8d8d8"/><circle cx="712.2" cy="1067.5" r="4.2" fill="#eee" style="stroke-width:1.3"/><circle cx="712.2" cy="1067.5" r="2" fill="#ccc" class="thin"/>
<path d="M643.3,1125 Q643.3,1122.8 645.5,1122.8 H656.8 Q659,1122.8 659,1125 V1143 H662 V1193 H659 V1209.6 Q659,1211.8 656.8,1211.8 H645.5 Q643.3,1211.8 643.3,1209.6 V1196 C643.3,1188 638,1184 630,1183.9 V1148.5 C638,1148.4 643.3,1144 643.3,1136 Z" fill="#d2d2d2"/>
<rect x="630" y="1148.5" width="32" height="35.4" fill="url(#gBlV2)" stroke="#153a6b"/>
<rect x="645.7" y="1196.6" width="12" height="7.2" fill="url(#gBlV2)" class="thin"/>
<circle cx="660" cy="1145.5" r="1.8" fill="#d2d2d2"/><circle cx="660" cy="1190" r="1.8" fill="#d2d2d2"/>
<path d="M729.5,1147.3 H745.2 L747.2,1153.3 V1182.2 L745.2,1188.2 H729.5 C727,1180 731,1172 729,1166 C727.5,1160 727.5,1153 729.5,1147.3 Z" fill="#d2d2d2"/>
<path d="M728.2,1153.3 H747.2 V1182.2 H729.2 C728,1176 731,1172 729,1166 C728,1161 727.8,1157 728.2,1153.3 Z" fill="url(#gBlV2)" stroke="#153a6b"/>
</g>
<path d="M640,1133 H662 M640,1200.3 H662" stroke="#555" style="stroke-width:.6" fill="none" stroke-dasharray="1.6 1.6"/>
<text x="687.0" y="1000.6" font-size="10.3" fill="#444" text-anchor="middle">DN≥250</text>
<text x="687.2" y="1104.2" font-size="10.5" fill="#444" text-anchor="middle">DN≥65 <tspan font-size="9">支架结构</tspan></text>
<path d="M663,1154 H684 M663,1182.2 H684" stroke="#555" style="stroke-width:.6" fill="none"/>
<path d="M675.8,1154.0 V1182.2" stroke="#555" style="stroke-width:.7" fill="none"/>
<polygon points="675.8,1154.0 674.4,1159.5 677.2,1159.5" fill="#555"/>
<polygon points="675.8,1182.2 674.4,1176.7 677.2,1176.7" fill="#555"/>
<text x="673.0" y="1168.0" font-size="9.5" fill="#444" text-anchor="middle" transform="rotate(-90 673.0 1168.0)">φd</text>
<path d="M662,1194 V1226" stroke="#555" style="stroke-width:.6" fill="none"/>
<path d="M626.5,1220.7 H662" stroke="#555" style="stroke-width:.6" fill="none"/>
<polygon points="662.0,1220.7 656.5,1219.3 656.5,1222.1" fill="#555"/>
<text x="633.0" y="1217.5" font-size="10.5" fill="#444" text-anchor="middle">L2</text>
<path d="M747.2,1189 V1221" stroke="#555" style="stroke-width:.6" fill="none"/>
<path d="M722.7,1215.9 H747.2" stroke="#555" style="stroke-width:.6" fill="none"/>
<polygon points="747.2,1215.9 741.7,1214.5 741.7,1217.3" fill="#555"/>
<text x="731.5" y="1212.5" font-size="10.5" fill="#444" text-anchor="middle">L1</text>
<text x="649.8" y="1238.5" font-size="9" fill="#444" text-anchor="middle">环连接端</text>
<text x="741.2" y="1238.5" font-size="9" fill="#444" text-anchor="middle">对焊端</text>
</svg>
</body></html>
